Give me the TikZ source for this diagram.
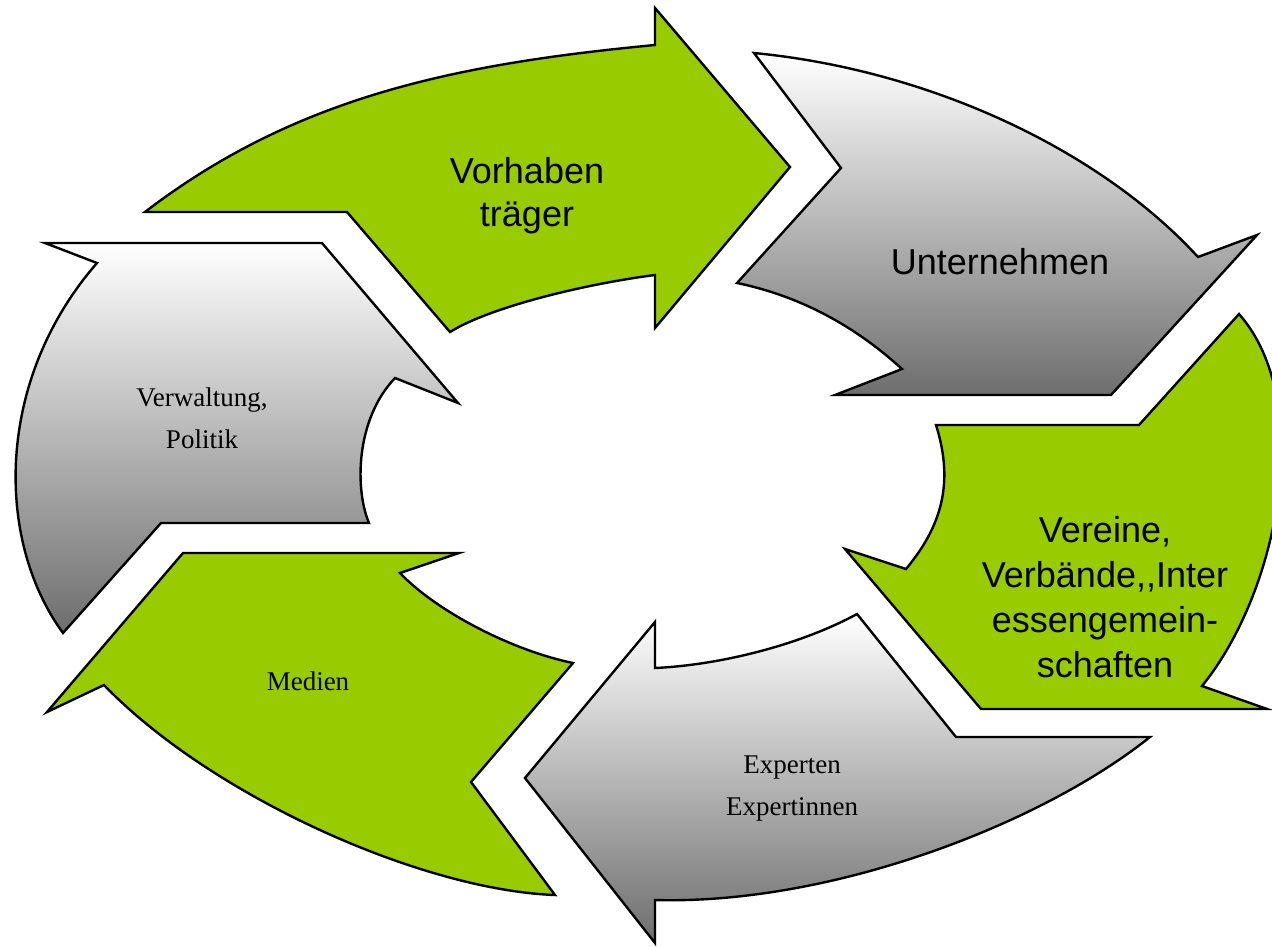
\documentclass[tikz,border=0pt]{standalone}
\usepackage{fontspec}
\setmainfont{Liberation Serif}
\newfontfamily\arialfont{Liberation Sans}
\definecolor{leafgreen}{RGB}{153,204,0}
\tikzset{
  greenarrow/.style={draw=black, line width=2.4pt, fill=leafgreen},
  grayarrow/.style={draw=black, line width=2.4pt, top color=white, bottom color=black!57},
  biglabel/.style={font=\arialfont\fontsize{36}{43}\selectfont, align=center},
  smalllabel/.style={font=\fontsize{27}{42}\selectfont, align=center}
}

\begin{document}
\begin{tikzpicture}[x=1pt, y=-1pt]
  \useasboundingbox (0,0) rectangle (1272,946);
  \clip (0,0) rectangle (1272,946);
  % Vorhabentraeger
  \path[greenarrow] (145,212) .. controls (295,97) and (455,64) .. (655,45)
    -- (655,8) -- (790,167) -- (655,328) -- (655,275)
    .. controls (585,284) and (490,307) .. (450,332) -- (347,212) -- cycle;
  % Unternehmen
  \path[grayarrow] (754,53) -- (841,168) -- (737,283)
    .. controls (800,296) and (855,326) .. (902,369)
    -- (835,395) -- (1111,395) -- (1257,235) -- (1198,257)
    .. controls (1100,150) and (930,70) .. (754,53) -- cycle;
  % Vereine
  \path[greenarrow] (1239,314) -- (1139,425) -- (936,425)
    .. controls (955,485) and (940,528) .. (906,569)
    -- (845,549) -- (981,709) -- (1267,709) -- (1202,686)
    .. controls (1280,590) and (1315,400) .. (1239,314) -- cycle;
  % Experten
  \path[grayarrow] (525,778) -- (655,622) -- (655,668)
    .. controls (720,665) and (800,645) .. (857,614)
    -- (956,737) -- (1150,737)
    .. controls (1040,825) and (830,905) .. (655,900)
    -- (655,943) -- cycle;
  % Medien
  \path[greenarrow] (183,553) -- (459,553) -- (400,573)
    .. controls (435,610) and (510,650) .. (573,663)
    -- (471,782) -- (555,895)
    .. controls (420,890) and (210,795) .. (104,685)
    -- (47,712) -- cycle;
  % Verwaltung
  \path[grayarrow] (45,243) -- (322,243) -- (458,403) -- (395,378)
    .. controls (355,420) and (355,490) .. (369,523)
    -- (161,523) -- (63,633)
    .. controls (-5,540) and (-5,380) .. (97,263) -- cycle;
  % labels
  \node[biglabel] (vorhaben) at (527,196) {Vorhaben\\träger};
  \node[biglabel] (unternehmen) at (1000,262) {Unternehmen};
  \node[biglabel, font=\arialfont\fontsize{36}{45}\selectfont] (vereine) at (1105,597) {Vereine,\\Verbände,,Inter\\essengemein-\\schaften};
  \node[smalllabel] (verwaltung) at (202,418) {Verwaltung,\\Politik};
  \node[smalllabel] (medien) at (308,681) {Medien};
  \node[smalllabel] (experten) at (792,789) {Experten\\Expertinnen};
\end{tikzpicture}
\end{document}
